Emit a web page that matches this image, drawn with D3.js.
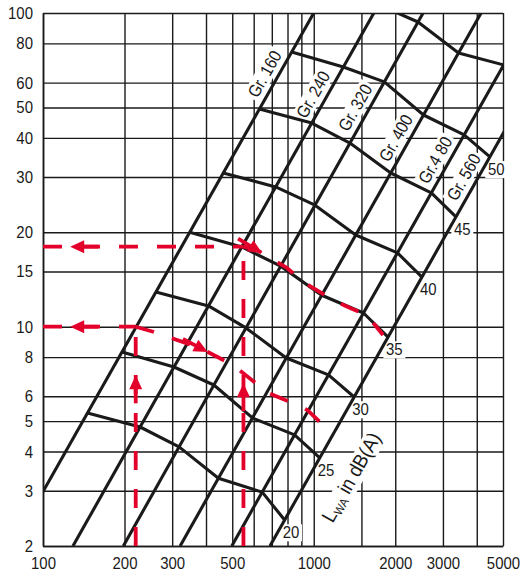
<!DOCTYPE html>
<html>
<head>
<meta charset="utf-8">
<script src="https://cdn.jsdelivr.net/npm/d3@7"></script>
<style>
  body { margin: 0; background: #fff; }
  svg { display: block; }
  text { font-family: "Liberation Sans", Arial, sans-serif; fill: #1a1a1a; }
</style>
</head>
<body>
<svg id="chart" width="523" height="577"></svg>
<script>
// grid and tick labels (flow on x, pressure on y)
var xGrid = [100, 200, 300, 400, 500, 600, 700, 800, 900, 1000, 1500, 2000, 3000, 4000, 5000];
var xLabels = [100, 200, 300, 500, 1000, 2000, 3000, 5000];
var yGrid = [2, 3, 4, 5, 6, 8, 10, 15, 20, 30, 40, 50, 60, 80, 100];

// size lines, each one from two read points [flow, pressure]
var sizes = ["Gr. 160", "Gr. 240", "Gr. 320", "Gr. 400", "Gr.4 80", "Gr. 560"];
var sizeFrom = [[77, 2], [129, 2], [198, 2], [321, 2], [498, 2], [689, 2]];
var sizeTo = [[1000, 100], [1667, 100], [2534, 100], [4150, 100], [6454, 100], [8930, 100]];
var sizeLabelAt = [64, 55, 50, 40, 34, 30];   // pressure where the name sits

// sound level curves: pressure where each curve crosses the size lines
var levels = [20, 25, 30, 35, 40, 45, 50, 55];
var levelP = [
  [5.31, 4.79, 4.14, 3.29, 2.97, 2.42],
  [8.31, 7.44, 6.52, 5.12, 4.52, 3.82],
  [12.9, 11.65, 9.91, 7.95, 7.02, 5.97],
  [20.0, 17.96, 15.6, 12.6, 11.06, 9.27],
  [30.9, 27.9, 24.4, 19.6, 17.2, 14.4],
  [49.4, 44.6, 38.5, 30.9, 26.7, 22.4],
  [75.1, 67.3, 60.3, 47.3, 40.9, 34.8],
  [null, 106.3, 93.6, 74.6, 68.3, 56.8]
];
var levelShown = [20, 25, 30, 35, 40, 45, 50];

// red reading examples
var exampleFlow = [220, 550];
var exampleP = [10, 18];
var examplePath1 = [[220, 10], [255, 9.64], [380, 8.56], [503, 7.55], [678, 6.15], [868, 5.63], [945, 5.43], [1055, 4.97], [1139, 4.58]];
var examplePath2 = [[550, 18], [617, 17.56], [690, 16.56], [797, 15.39], [913, 13.88], [1055, 12.9], [1220, 11.99], [1362, 11.47], [1508, 11.06], [1684, 10.13], [1803, 9.41]];
var arrowUpAt = [7.0, 6.6];
var arrowLeftAt = 126;
var arrowPathAt = [406, 644];

(function(){
var red = "#e3002b", ink = "#1a1a1a";
var pL = 43, pR = 503, pT = 13, pB = 546;
var narrow = 0.88;   // the print uses a condensed face

var svg = d3.select("#chart");
var x = d3.scaleLog().domain([100, 5000]).range([pL, pR]);
var y = d3.scaleLog().domain([2, 100]).range([pB, pT]);

svg.append("defs").append("clipPath").attr("id", "plot")
  .append("rect").attr("x", pL).attr("y", pT).attr("width", pR - pL).attr("height", pB - pT);

var gridG = svg.append("g");
var haloG = svg.append("g");
var lineG = svg.append("g").attr("clip-path", "url(#plot)");
var redG = svg.append("g").attr("clip-path", "url(#plot)");
var textG = svg.append("g");

// gridlines and tick labels from the axes
var xAxis = gridG.append("g").attr("transform", "translate(0," + pB + ")")
  .call(d3.axisBottom(x).tickValues(xGrid).tickSize(-(pB - pT)).tickSizeOuter(0).tickPadding(10.5)
    .tickFormat(function(d){ return xLabels.indexOf(d) >= 0 ? d : ""; }));
var yAxis = gridG.append("g").attr("transform", "translate(" + pL + ",0)")
  .call(d3.axisLeft(y).tickValues(yGrid).tickSize(-(pR - pL)).tickSizeOuter(0).tickPadding(11.4)
    .tickFormat(function(d){ return d; }));
[xAxis, yAxis].forEach(function(a){
  a.attr("color", ink).attr("font-family", null).attr("font-size", 17);
  a.selectAll(".tick line").attr("stroke-width", 1.4);
  a.select(".domain").attr("stroke-width", 1.6);
  a.selectAll("text").attr("fill", ink).attr("transform", "scale(" + narrow + ",1)");
});

function flowAt(i, p) {
  var a = sizeFrom[i], b = sizeTo[i];
  var t = (Math.log(p) - Math.log(a[1])) / (Math.log(b[1]) - Math.log(a[1]));
  return Math.exp(Math.log(a[0]) + t * (Math.log(b[0]) - Math.log(a[0])));
}
function sizeAngle(i) {
  var a = sizeFrom[i], b = sizeTo[i];
  return Math.atan2(y(b[1]) - y(a[1]), x(b[0]) - x(a[0])) * 180 / Math.PI;
}

var line = d3.line().x(function(d){ return x(d[0]); }).y(function(d){ return y(d[1]); });

// labels with a white box that breaks the grid under them
function label(parts, cx, cy, angle, size, anchor, sx) {
  var tr = "translate(" + cx + "," + cy + ") rotate(" + angle + ") scale(" + (sx || narrow) + ",1)";
  var t = textG.append("text").attr("transform", tr).attr("text-anchor", anchor || "middle")
    .attr("font-size", size).attr("dy", "0.36em");
  parts.forEach(function(p){
    t.append("tspan").attr("font-size", p.size || null).attr("dy", p.dy || null).text(p.t);
  });
  var b = t.node().getBBox();
  haloG.append("rect").attr("transform", tr)
    .attr("x", b.x - 3).attr("y", b.y + 1).attr("width", b.width + 6).attr("height", b.height - 1)
    .attr("fill", "#fff");
}

// size lines
lineG.selectAll("path.size").data(sizes).enter().append("path").attr("class", "size")
  .attr("d", function(d, i){ return line([sizeFrom[i], sizeTo[i]]); })
  .attr("fill", "none").attr("stroke", ink).attr("stroke-width", 3.1);

// level curves
var curves = levelP.map(function(row){
  var pts = [];
  row.forEach(function(p, j){ if (p !== null) pts.push([flowAt(j, p), p]); });
  return pts;
});
lineG.selectAll("path.level").data(curves).enter().append("path").attr("class", "level")
  .attr("d", line).attr("fill", "none").attr("stroke", ink).attr("stroke-width", 3.1)
  .attr("stroke-linejoin", "round");

// names on the size lines
sizes.forEach(function(s, i){
  var p = sizeLabelAt[i];
  label([{t: s}], x(flowAt(i, p)) - 15, y(p), sizeAngle(i), 17.5);
});

// level numbers at the end of each curve
levels.forEach(function(l, k){
  if (levelShown.indexOf(l) < 0) return;
  var end = curves[k][curves[k].length - 1];
  label([{t: String(l)}], x(end[0]) - 2, y(end[1]) + 12, 0, 17, "start");
});

// axis title along the last size line
var pA = y.invert(477);
label([{t: "L"}, {t: "WA", size: 12, dy: 3}, {t: " in dB(A)", dy: -3}],
  x(flowAt(5, pA)) + 42, y(pA), sizeAngle(5), 20, "middle", 0.92);

// red examples
function dashed(pts) {
  redG.append("path").attr("d", line(pts)).attr("fill", "none").attr("stroke", red)
    .attr("stroke-width", 3.8).attr("stroke-dasharray", "19,19");
}
function arrow(px, py, deg) {
  var g = redG.append("g").attr("transform", "translate(" + px + "," + py + ") rotate(" + deg + ")");
  g.append("line").attr("x1", -12).attr("x2", -28).attr("stroke", red).attr("stroke-width", 3.8);
  g.append("path").attr("d", "M0,0L-14,-6.5L-14,6.5Z").attr("fill", red);
}
function pathArrow(pts, v) {
  for (var i = 1; i < pts.length; i++) {
    if (pts[i][0] >= v) {
      var a = pts[i - 1], b = pts[i];
      var t = (Math.log(v) - Math.log(a[0])) / (Math.log(b[0]) - Math.log(a[0]));
      var p = Math.exp(Math.log(a[1]) + t * (Math.log(b[1]) - Math.log(a[1])));
      var ang = Math.atan2(y(b[1]) - y(a[1]), x(b[0]) - x(a[0])) * 180 / Math.PI;
      arrow(x(v), y(p), ang);
      return;
    }
  }
}
[examplePath1, examplePath2].forEach(function(path, e){
  var v = exampleFlow[e], p = exampleP[e];
  dashed([[100, p], [v, p]]);
  dashed([[v, 2], [v, p]]);
  dashed(path);
  arrow(x(arrowLeftAt), y(p), 180);
  arrow(x(v), y(arrowUpAt[e]), -90);
  pathArrow(path, arrowPathAt[e]);
});
})();
</script>
</body>
</html>
